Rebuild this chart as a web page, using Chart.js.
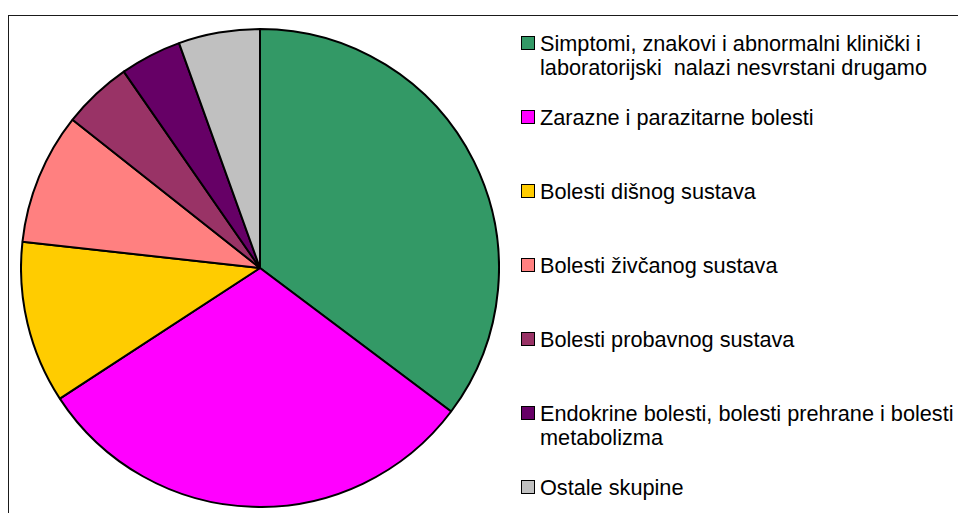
<!DOCTYPE html>
<html>
<head>
<meta charset="utf-8">
<script src="https://cdn.jsdelivr.net/npm/chart.js"></script>
<style>
  html, body { margin: 0; padding: 0; background: #fff; }
  body { width: 958px; height: 513px; position: relative; overflow: hidden;
         font-family: "Liberation Sans", Arial, sans-serif; }
  .frame { position: absolute; left: 8px; top: 15px; right: -5px; bottom: -5px;
           border: 1px solid #1a1a1a; }
  .pie { position: absolute; left: 20px; top: 28px; width: 480px; height: 480px; }
  #legend { position: absolute; left: 521px; top: 32px; height: 468px; width: 437px;
            display: flex; flex-direction: column; justify-content: space-between; }
  .item { position: relative; height: 24px; }
  .box { position: absolute; left: 0; top: 4px; width: 12px; height: 12px;
         border: 1px solid #000; }
  .txt { position: absolute; left: 19px; top: 0; font-size: 21.7px; line-height: 24px;
         white-space: pre; color: #000; }
</style>
</head>
<body>
<div class="frame"></div>
<div class="pie"><canvas id="pieChart" width="480" height="480"></canvas></div>
<div id="legend"></div>
<script>
const categories = [
  'Simptomi, znakovi i abnormalni klinički i\nlaboratorijski  nalazi nesvrstani drugamo',
  'Zarazne i parazitarne bolesti',
  'Bolesti dišnog sustava',
  'Bolesti živčanog sustava',
  'Bolesti probavnog sustava',
  'Endokrine bolesti, bolesti prehrane i bolesti\nmetabolizma',
  'Ostale skupine'
];
const shares = [35.25, 30.55, 10.95, 8.9, 4.7, 4.15, 5.5];
const colors = ['#339966', '#ff00ff', '#ffcc00', '#ff8080', '#993366', '#660066', '#c0c0c0'];

const ctx = document.getElementById('pieChart').getContext('2d');
const pieChart = new Chart(ctx, {
  type: 'pie',
  data: {
    labels: categories,
    datasets: [{
      data: shares,
      backgroundColor: colors,
      borderColor: '#000',
      borderWidth: 2
    }]
  },
  options: {
    responsive: false,
    animation: false,
    devicePixelRatio: 1,
    layout: { padding: 0 },
    plugins: { legend: { display: false }, tooltip: { enabled: false } }
  }
});

// legend on the right, same order as the slices
const legend = document.getElementById('legend');
categories.forEach((c, i) => {
  const item = document.createElement('div');
  item.className = 'item';
  const box = document.createElement('div');
  box.className = 'box';
  box.style.background = colors[i];
  const txt = document.createElement('div');
  txt.className = 'txt';
  txt.textContent = c;
  item.appendChild(box);
  item.appendChild(txt);
  legend.appendChild(item);
});
</script>
</body>
</html>
